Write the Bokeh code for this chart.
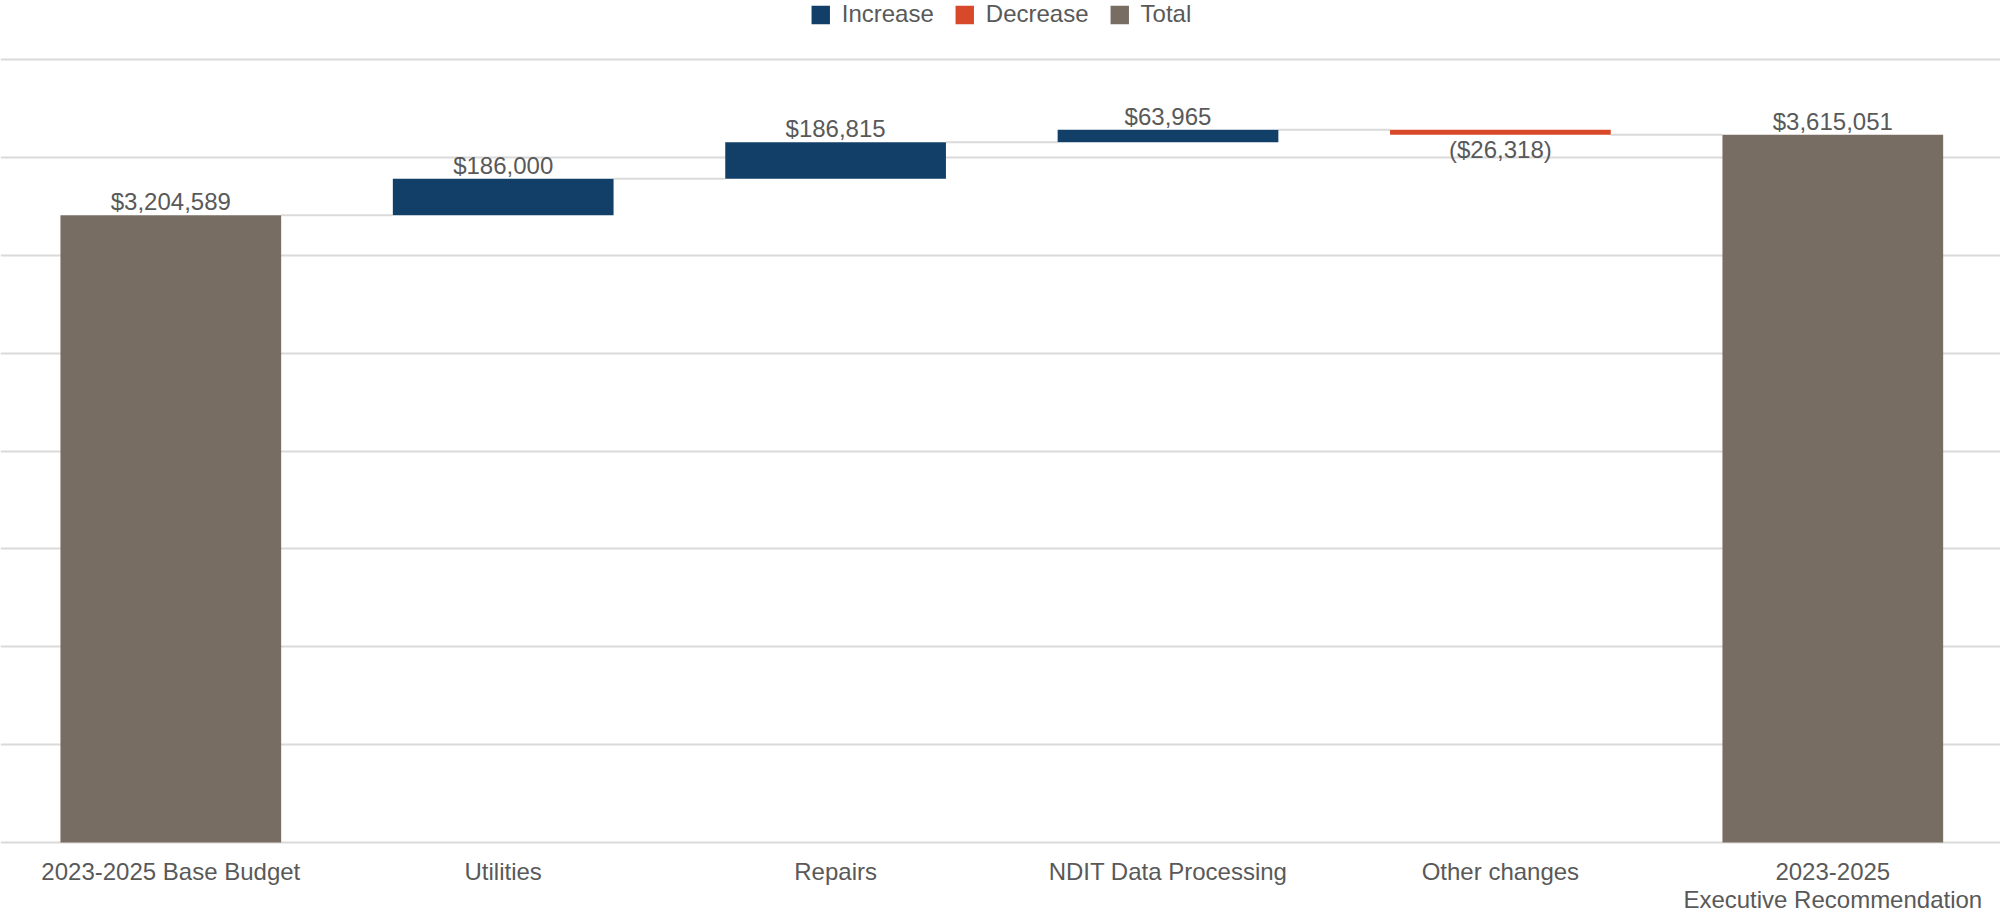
from bokeh.plotting import figure
from bokeh.models import Range1d, FixedTicker, Legend, LegendItem, ColumnDataSource
from bokeh.embed import file_html
from bokeh.resources import INLINE

# ---- data ----
categories = ["2023-2025 Base Budget", "Utilities", "Repairs", "NDIT Data Processing",
              "Other changes", "2023-2025\nExecutive Recommendation"]
amounts = [3204589, 186000, 186815, 63965, -26318, 3615051]
kinds = ["total", "increase", "increase", "increase", "decrease", "total"]
legend_names = ["Increase", "Decrease", "Total"]
legend_kinds = ["increase", "decrease", "total"]
y_ticks = [0, 500000, 1000000, 1500000, 2000000, 2500000, 3000000, 3500000, 4000000]

# ---- styles / layout ----
colors = {"increase": "#123F68", "decrease": "#D8482A", "total": "#786D63"}
TEXT = "#595959"
GRID = "#dadada"
FONT = "Liberation Sans"
BAR_W = 0.664
FIG_W, FIG_H = 2000, 915
AXIS_TOP_PX = 59      # y of top gridline
BASE_PX = 842         # y of zero line
FIRST_CX, CAT_STEP = 170.3, 332.4   # x of first category centre, category spacing (px)
STEP_PX = (BASE_PX - AXIS_TOP_PX) / (len(y_ticks) - 1)
UNITS_PER_PX = (y_ticks[1] - y_ticks[0]) / STEP_PX
y_max = y_ticks[-1] + AXIS_TOP_PX * UNITS_PER_PX
y_min = -(FIG_H - BASE_PX) * UNITS_PER_PX
x_min = -FIRST_CX / CAT_STEP
x_max = (FIG_W - FIRST_CX) / CAT_STEP

# ---- waterfall geometry ----
bottoms, tops, levels = [], [], []
running = 0
for a, k in zip(amounts, kinds):
    if k == "total":
        b, t = 0, a
        running = a
    else:
        b, t = running, running + a
        running += a
    bottoms.append(min(b, t))
    tops.append(max(b, t))
    levels.append(running)

def fmt(v):
    s = "${:,}".format(abs(v))
    return "(" + s + ")" if v < 0 else s

xs = list(range(len(categories)))

p = figure(width=FIG_W, height=FIG_H, output_backend="svg", toolbar_location=None,
           x_range=Range1d(x_min, x_max), y_range=Range1d(y_min, y_max),
           min_border=0)
p.outline_line_color = None
p.background_fill_color = "white"
p.border_fill_color = "white"
p.xaxis.visible = False
p.yaxis.visible = False

# grid
p.xgrid.visible = False
p.ygrid.ticker = FixedTicker(ticks=y_ticks)
p.ygrid.grid_line_color = GRID
p.ygrid.grid_line_width = 2

# connectors
cx0 = [i + BAR_W / 2 for i in xs[:-1]]
cx1 = [i + 1 - BAR_W / 2 for i in xs[:-1]]
cy = levels[:-1]
p.segment(x0=cx0, y0=cy, x1=cx1, y1=cy, line_color=GRID, line_width=2)

# bars
items = []
for kind, name in zip(legend_kinds, legend_names):
    idx = [i for i, k in enumerate(kinds) if k == kind]
    src = ColumnDataSource(dict(x=[xs[i] for i in idx], top=[tops[i] for i in idx],
                                bottom=[bottoms[i] for i in idx]))
    r = p.vbar(x="x", top="top", bottom="bottom", width=BAR_W, source=src,
               fill_color=colors[kind], line_color=None)
    items.append(LegendItem(label=name, renderers=[r]))

# value labels
up_idx = [i for i, k in enumerate(kinds) if k != "decrease"]
dn_idx = [i for i, k in enumerate(kinds) if k == "decrease"]
p.text(x=[xs[i] for i in up_idx], y=[tops[i] for i in up_idx],
       text=[fmt(amounts[i]) for i in up_idx], text_align="center",
       text_baseline="bottom", y_offset=0, text_font_size="24px",
       text_color=TEXT, text_font={"value": FONT})
p.text(x=[xs[i] for i in dn_idx], y=[bottoms[i] for i in dn_idx],
       text=[fmt(amounts[i]) for i in dn_idx], text_align="center",
       text_baseline="top", y_offset=1, text_font_size="24px",
       text_color=TEXT, text_font={"value": FONT})

# category labels (below the zero line)
p.text(x=xs, y=[0] * len(xs), text=categories, text_align="center",
       text_baseline="top", y_offset=15, text_font_size="24px", text_line_height=1.05,
       text_color=TEXT, text_font={"value": FONT})

# legend
legend = Legend(items=items, orientation="horizontal", location="top_center",
                glyph_width=23, glyph_height=23, label_standoff=10, spacing=19,
                label_text_font_size="24px", label_text_color=TEXT, label_text_font=FONT,
                border_line_color=None, background_fill_alpha=0, padding=0, margin=0)
p.add_layout(legend)

open("out.html", "w").write(file_html(p, INLINE))
